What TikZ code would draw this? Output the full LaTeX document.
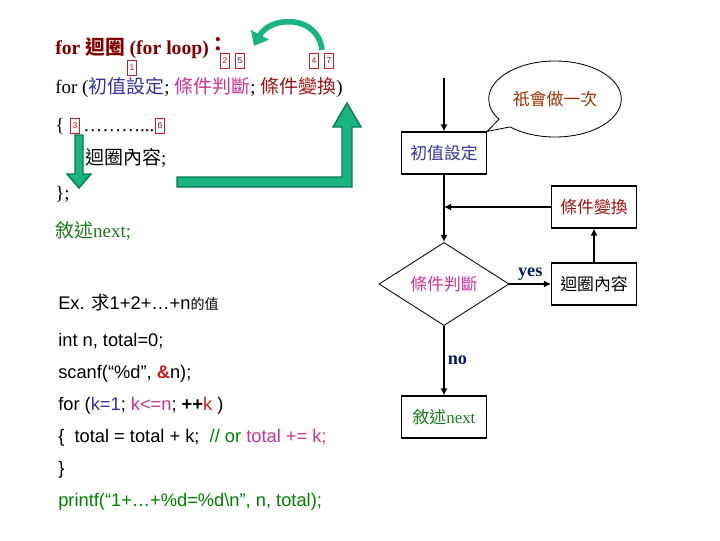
\documentclass[tikz,border=0pt]{standalone}
\usepackage{fontspec}
\setmainfont{Liberation Serif}
\setsansfont{Liberation Sans}
\newfontfamily\cjk{Noto Sans CJK TC}
\usepackage{xcolor}
\usepackage{tikz}
\usetikzlibrary{shapes.geometric, shapes.callouts, arrows.meta, positioning}

\definecolor{titlered}{RGB}{128,0,0}
\definecolor{initblue}{RGB}{51,51,153}
\definecolor{condpink}{RGB}{204,51,153}
\definecolor{updred}{RGB}{160,20,20}
\definecolor{nextgreen}{RGB}{30,120,30}
\definecolor{codegreen}{RGB}{0,128,0}
\definecolor{oncebrown}{RGB}{153,51,0}
\definecolor{yesblue}{RGB}{0,32,96}
\definecolor{numred}{RGB}{200,30,30}
\definecolor{numdark}{RGB}{60,30,30}
\definecolor{bigarrow}{RGB}{25,180,130}
\definecolor{bigarrowdark}{RGB}{10,120,85}

\newcommand{\zh}[1]{{\cjk #1}}

\begin{document}
\begin{tikzpicture}[
        x=0.025cm, y=-0.025cm,
        txt/.style={anchor=base west, inner sep=0, font=\fontsize{13.5}{15}\selectfont},
        code/.style={anchor=base west, inner sep=0, font=\sffamily\fontsize{13}{15}\selectfont},
        numbox/.style={draw=numred, line width=0.5pt, inner sep=0, minimum width=0.23cm,
            minimum height=0.38cm, font=\sffamily\fontsize{6}{7}\selectfont},
        flowbox/.style={rectangle, draw, line width=0.8pt, minimum width=2.125cm,
            minimum height=1.05cm, font=\fontsize{12}{14}\selectfont},
        flow/.style={draw, line width=1.4pt, -{Latex[length=5pt,width=5pt]}},
        lbl/.style={font=\bfseries\fontsize{13}{15}\selectfont, text=yesblue, inner sep=2pt},
        greenarrow/.style={fill=bigarrow, draw=bigarrowdark, line width=1pt}
        ]

        \useasboundingbox (0,0) rectangle (720,540);

        %% ---- for loop syntax ----
        \node[txt, font=\bfseries\fontsize{14}{16}\selectfont, text=titlered] (title) at (55,54)
            {for \zh{迴圈} (for loop)\raisebox{2pt}{\zh{：}}};
        \node[txt] (forline) at (55,93) {for\ (\textcolor{initblue}{\zh{初值設定}};
            \textcolor{condpink}{\zh{條件判斷}}; \textcolor{updred}{\zh{條件變換}})};
        \node[txt] (brace) at (55,131) {\{};
        \node[txt] (dots) at (83,131) {………...};
        \node[txt] (bodyline) at (85,164) {\zh{迴圈內容};};
        \node[txt] (close) at (55,199) {\};};
        \node[txt, text=nextgreen] (nextline) at (55,237) {\zh{敘述}next;};

        %% step numbers
        \node[numbox, text=numred]  (n1) at (132,68) {1};
        \node[numbox, text=numred]  (n2) at (225,61) {2};
        \node[numbox, text=numdark] (n5) at (240,61) {5};
        \node[numbox, text=numred]  (n4) at (314,61) {4};
        \node[numbox, text=numdark] (n7) at (329,61) {7};
        \node[numbox, text=numred]  (n3) at (75,126) {3};
        \node[numbox, text=numdark] (n6) at (160,126) {6};

        %% green arrows
        \draw[line width=4pt, draw=bigarrow, -{Triangle[length=9pt,width=14pt]}]
            (322,50) .. controls (318,14) and (270,16) .. (254,46);
        \draw[greenarrow] (177,177) -- (342,177) -- (342,127) -- (333,127) -- (347,103)
            -- (361,127) -- (352,127) -- (352,187) -- (177,187) -- cycle;
        \draw[greenarrow] (75,135) -- (83,135) -- (83,174) -- (91,174) -- (79,188)
            -- (67,174) -- (75,174) -- cycle;

        %% ---- example ----
        \node[code] (ex) at (58,309) {Ex. \zh{求}1+2+…+n\zh{\fontsize{10}{12}\selectfont 的值}};
        \node[code] (decl) at (58,346) {int n, total=0;};
        \node[code] (scan) at (58,378) {scanf(“\%d”, \textcolor{numred}{\textbf{\&}}n);};
        \node[code] (forcode) at (58,410) {for (\textcolor{initblue}{k=1}; \textcolor{condpink}{k<=n};
            \textbf{++}\textcolor{numred}{k} )};
        \node[code] (sum) at (58,442) {\{\ \ total = total + k;\ \ \textcolor{codegreen}{// or}
            \textcolor{condpink}{total += k;}};
        \node[code] (endcode) at (58,474) {\}};
        \node[code, text=codegreen] (print) at (58,506) {printf(“1+…+\%d=\%d\textbackslash n”, n, total);};

        %% ---- flowchart ----
        \coordinate (start) at (444,78);
        \node[flowbox, text=initblue] (init) at (444,153) {\zh{初值設定}};
        \node[flowbox, text=updred] (upd) at (594,207) {\zh{條件變換}};
        \node[diamond, draw, line width=0.6pt, minimum width=3.25cm, minimum height=1.95cm,
            inner sep=0, font=\fontsize{12}{14}\selectfont, text=condpink] (cond) at (444,284) {\zh{條件判斷}};
        \node[flowbox] (body) at (594,284) {\zh{迴圈內容}};
        \node[flowbox, text=nextgreen] (next) at (444,417) {\zh{敘述}next};
        \node[ellipse callout, draw, line width=0.6pt, minimum width=3.1cm, minimum height=1.9cm,
            callout absolute pointer={(init.north east)}, font=\fontsize{12}{14}\selectfont,
            text=oncebrown] (once) at (555,99) {\zh{祇會做一次}};

        \coordinate (join) at (init.south |- upd.west);
        \draw[flow] (start) -- (init);
        \draw[flow] (init) -- (cond);
        \draw[flow] (upd) -- (join);
        \draw[flow] (cond) -- node[lbl, above]{yes} (body);
        \draw[flow] (body) -- (upd);
        \draw[flow] (cond) -- node[lbl, right]{no} (next);

    \end{tikzpicture}
\end{document}
